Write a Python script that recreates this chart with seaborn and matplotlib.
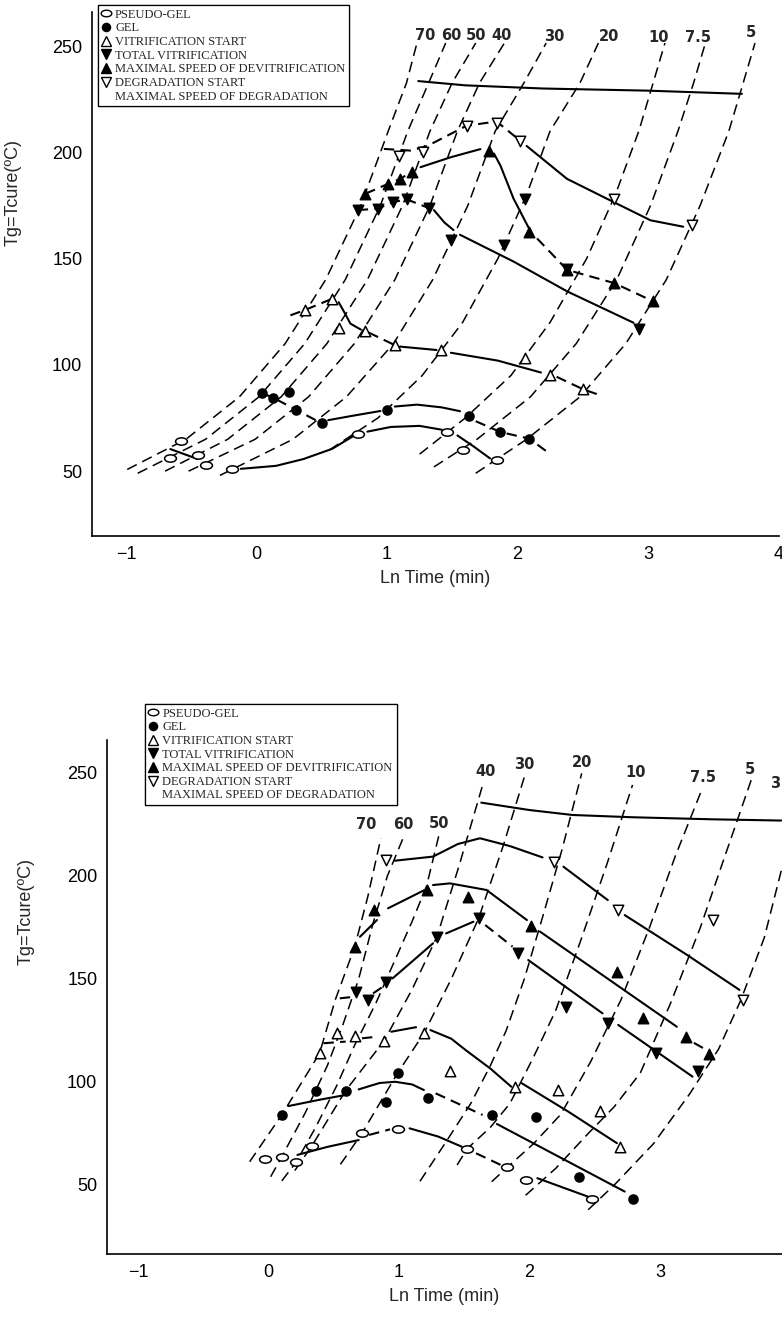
import matplotlib
matplotlib.use("Agg")
import matplotlib.pyplot as plt
import seaborn as sns
from matplotlib.path import Path
from matplotlib.lines import Line2D

sns.set_theme(style="white")
plt.rcParams["font.family"] = ["Liberation Sans Narrow", "Liberation Sans", "DejaVu Sans"]

# ======================= TOP PANEL DATA =======================
top_rate_labels = ["70", "60", "50", "40", "30", "20", "10", "7.5", "5"]
top_label_x = [1.29, 1.49, 1.68, 1.88, 2.28, 2.70, 3.08, 3.38, 3.79]
top_label_y = [255, 255, 255, 255, 254.7, 254.7, 254, 254, 256.5]

top_c70 = [(-0.99, 50.8), (-0.54, 65), (-0.13, 85), (0.22, 110), (0.53, 140), (0.80, 175), (1.01, 210), (1.15, 232.7), (1.23, 251.4)]
top_c60 = [(-0.91, 49), (-0.39, 65), (0.02, 85), (0.37, 110), (0.68, 140), (0.95, 175), (1.16, 210), (1.32, 232.7), (1.45, 251.4)]
top_c50 = [(-0.70, 50), (-0.22, 65), (0.19, 85), (0.54, 110), (0.85, 140), (1.12, 175), (1.33, 210), (1.50, 232.7), (1.68, 251.4)]
top_c40 = [(-0.52, 50), (-0.01, 65), (0.40, 85), (0.75, 110), (1.06, 140), (1.33, 175), (1.54, 210), (1.71, 232.7), (1.90, 251.4)]
top_c30 = [(-0.28, 48), (0.28, 65), (0.69, 85), (1.05, 110), (1.35, 140), (1.62, 175), (1.83, 210), (2.05, 232.7), (2.22, 251.4)]
top_c20 = [(0.56, 60), (0.93, 75), (1.27, 95), (1.58, 120), (1.85, 150), (2.07, 180), (2.25, 210), (2.48, 232.7), (2.62, 251.4)]
top_c10 = [(1.25, 58), (1.60, 75), (1.95, 95), (2.25, 120), (2.53, 150), (2.75, 180), (2.93, 210), (3.04, 232.7), (3.13, 251.4)]
top_c7p5 = [(1.36, 52), (1.69, 65), (2.10, 85), (2.45, 110), (2.76, 140), (3.02, 175), (3.23, 210), (3.35, 232.7), (3.44, 251.4)]
top_c5 = [(1.68, 49), (2.07, 65), (2.48, 85), (2.83, 110), (3.14, 140), (3.40, 175), (3.62, 210), (3.73, 232.7), (3.82, 251.4)]
top_curves = [top_c70, top_c60, top_c50, top_c40, top_c30, top_c20, top_c10, top_c7p5, top_c5]

top_pseudo_gel = [(-0.58, 64.3), (-0.66, 56.0), (-0.45, 57.8), (-0.39, 53.1), (-0.19, 50.8), (0.78, 67.5), (1.46, 68.4), (1.58, 59.8), (1.84, 55.4)]
top_gel = [(0.04, 86.8), (0.13, 84.5), (0.25, 87.3), (0.30, 79.0), (0.50, 72.5), (1.00, 78.7), (1.63, 75.8), (1.87, 68.4), (2.09, 65.3)]
top_vit_start = [(0.375, 125.9), (0.58, 131.1), (0.635, 117.4), (0.835, 116.0), (1.06, 109.3), (1.415, 106.9), (2.06, 103.4), (2.25, 95.3), (2.50, 88.6)]
top_total_vit = [(0.776, 172.8), (0.93, 173.5), (1.05, 176.6), (1.15, 177.9), (1.32, 173.8), (1.49, 158.7), (1.90, 156.4), (2.06, 178.2), (2.38, 145.0), (2.93, 116.7)]
top_max_devit = [(0.835, 180.5), (1.01, 185.2), (1.10, 187.5), (1.19, 190.7), (1.78, 200.8), (2.09, 162.6), (2.38, 144.7), (2.74, 138.5), (3.04, 129.9)]
top_degr_start = [(1.09, 198.1), (1.28, 200.0), (1.61, 212.5), (1.84, 213.7), (2.02, 205.5), (2.74, 178.2), (3.34, 165.7)]

# connecting lines: (style, points)
top_links = [
    ("-", [(-0.66, 60.4), (-0.45, 55.7)]),
    ("-", [(-0.12, 51.1), (0.15, 52.5), (0.36, 55.7), (0.58, 60.5), (0.745, 66.6)]),
    ("-", [(0.85, 68.6), (1.03, 70.8), (1.25, 71.3), (1.42, 69.5)]),
    ("-", [(1.54, 66.8), (1.66, 61.8), (1.79, 56.0)]),
    ("--", [(0.04, 86.8), (0.13, 84.5), (0.30, 79.0), (0.50, 72.5)]),
    ("-", [(0.55, 74.0), (0.75, 76.2), (0.95, 78.3)]),
    ("-", [(1.06, 80.4), (1.23, 81.3), (1.42, 80.0), (1.56, 78.2)]),
    ("--", [(1.68, 73.5), (1.87, 68.4), (2.09, 65.3), (2.23, 59.0)]),
    ("--", [(0.26, 123.3), (0.375, 125.9), (0.58, 131.1)]),
    ("-", [(0.63, 129.5), (0.68, 124.0), (0.72, 119.4), (0.80, 116.6)]),
    ("--", [(0.86, 115.2), (1.06, 109.3)]),
    ("-", [(1.10, 108.6), (1.38, 107.0)]),
    ("-", [(1.49, 105.7), (1.85, 102.0), (2.18, 96.4)]),
    ("--", [(2.30, 94.4), (2.50, 88.6), (2.62, 86.0)]),
    ("--", [(0.776, 172.8), (0.93, 173.5), (1.05, 176.6), (1.15, 177.9), (1.32, 173.8)]),
    ("-", [(1.36, 172.8), (1.44, 167.0), (1.51, 163.4)]),
    ("-", [(1.56, 161.2), (1.97, 148.6), (2.38, 134.6), (2.89, 119.8)]),
    ("--", [(0.835, 180.5), (1.01, 185.2), (1.10, 187.5), (1.19, 190.7)]),
    ("-", [(1.257, 193.0), (1.49, 197.7), (1.716, 201.5)]),
    ("-", [(1.82, 199.4), (1.87, 193.7), (1.97, 178.2), (2.09, 164.0)]),
    ("--", [(2.15, 159.5), (2.38, 144.7), (2.74, 138.5), (3.04, 129.9)]),
    ("--", [(0.976, 201.6), (1.18, 200.8), (1.31, 203.0), (1.61, 212.5), (1.84, 214.5), (2.02, 205.5)]),
    ("-", [(2.07, 203.0), (2.38, 187.5), (2.74, 176.5), (3.02, 168.0), (3.27, 165.0)]),
    ("-", [(1.24, 233.5), (1.60, 231.5), (2.20, 230.0), (3.00, 229.0), (3.72, 227.5)]),
]

# ======================= BOTTOM PANEL DATA =======================
bot_rate_labels = ["70", "60", "50", "40", "30", "20", "10", "7.5", "5", "3"]
bot_label_x = [0.75, 1.03, 1.31, 1.66, 1.96, 2.40, 2.81, 3.33, 3.69, 3.88]
bot_label_y = [224.8, 224.8, 225.7, 250.5, 253.9, 254.9, 250.2, 247.6, 251.5, 245]

bot_c70 = [(-0.146, 61.3), (0.10, 84), (0.39, 113.9), (0.51, 139.8), (0.66, 165.7), (0.76, 190), (0.86, 218.4)]
bot_c60 = [(0.015, 54), (0.10, 63.7), (0.28, 85), (0.45, 108), (0.57, 128), (0.69, 150), (0.80, 177), (0.91, 200), (1.03, 218.3)]
bot_c50 = [(0.10, 52), (0.21, 61), (0.36, 78), (0.52, 98), (0.66, 118), (0.82, 138), (0.96, 158), (1.10, 178), (1.21, 195), (1.31, 221)]
bot_c40 = [(0.20, 57), (0.33, 68.9), (0.59, 95.8), (0.885, 120), (1.10, 145), (1.29, 170.5), (1.46, 205), (1.64, 244)]
bot_c30 = [(0.55, 60), (0.715, 75.1), (0.99, 104.5), (1.19, 123.6), (1.40, 150), (1.61, 179.5), (1.80, 215), (1.96, 248)]
bot_c20 = [(1.16, 51.8), (1.35, 70), (1.55, 89.6), (1.70, 108), (1.82, 124.8), (1.96, 150), (2.10, 180), (2.25, 213), (2.40, 249.8)]
bot_c10 = [(1.445, 59.7), (1.52, 67.5), (1.70, 78), (1.85, 89.6), (2.03, 112), (2.20, 134.6), (2.40, 170), (2.60, 207), (2.79, 244.2)]
bot_c7p5 = [(1.71, 51.6), (1.83, 58.6), (2.03, 70), (2.24, 84.3), (2.47, 110), (2.70, 139.7), (2.92, 175), (3.12, 210), (3.32, 241.7)]
bot_c5 = [(1.97, 45), (2.20, 58), (2.45, 75), (2.65, 88), (2.85, 104.4), (3.08, 138), (3.31, 175), (3.50, 210), (3.70, 246.6)]
bot_c3 = [(2.45, 38), (2.65, 50), (2.95, 70), (3.23, 94.4), (3.45, 116), (3.62, 139.7), (3.80, 170), (3.94, 205), (4.02, 232)]
bot_curves = [bot_c70, bot_c60, bot_c50, bot_c40, bot_c30, bot_c20, bot_c10, bot_c7p5, bot_c5, bot_c3]

bot_pseudo_gel = [(-0.03, 62.6), (0.10, 63.7), (0.21, 61.0), (0.33, 68.9), (0.715, 75.1), (0.99, 77.3), (1.52, 67.5), (1.83, 58.6), (1.97, 52.4), (2.48, 43.1)]
bot_gel = [(0.10, 84.0), (0.36, 95.8), (0.59, 95.8), (0.90, 90.4), (0.99, 104.5), (1.22, 92.1), (1.71, 84.0), (2.05, 82.9), (2.38, 53.8), (2.79, 43.2)]
bot_vit_start = [(0.39, 113.9), (0.52, 123.6), (0.66, 122.3), (0.885, 120.0), (1.19, 123.6), (1.39, 105.5), (1.89, 97.4), (2.22, 96.1), (2.54, 86.0), (2.69, 68.6)]
bot_total_vit = [(0.67, 143.8), (0.76, 139.8), (0.90, 148.7), (1.29, 170.5), (1.61, 179.5), (1.91, 162.4), (2.28, 136.6), (2.60, 128.4), (2.97, 113.9), (3.29, 105.4)]
bot_max_devit = [(0.66, 165.7), (0.81, 183.5), (1.21, 193.2), (1.53, 189.6), (2.01, 175.7), (2.67, 153.5), (2.87, 130.9), (3.20, 121.7), (3.38, 113.6)]
bot_degr_start = [(0.90, 207.8), (2.19, 206.9), (2.68, 183.5), (3.41, 178.6), (3.64, 139.8)]

bot_links = [
    ("-", [(0.22, 64.6), (0.45, 68.5), (0.69, 71.8)]),
    ("--", [(0.77, 74.3), (0.93, 77.0)]),
    ("-", [(1.08, 77.5), (1.30, 73.5), (1.48, 68.6)]),
    ("--", [(1.59, 65.4), (1.78, 59.7)]),
    ("-", [(2.06, 53.3), (2.45, 44.3)]),
    ("-", [(0.15, 88.3), (0.40, 91.5), (0.59, 93.7)]),
    ("-", [(0.69, 96.4), (0.85, 99.5), (0.97, 100.1), (1.10, 98.8), (1.19, 96.1)]),
    ("--", [(1.28, 94.5), (1.64, 84.0)]),
    ("-", [(1.75, 79.6), (2.73, 46.8)]),
    ("--", [(0.42, 118.8), (0.59, 119.6)]),
    ("--", [(0.715, 121.2), (0.835, 122.0)]),
    ("-", [(0.94, 124.4), (1.13, 126.6)]),
    ("-", [(1.24, 125.2), (1.40, 121.0), (1.51, 115.5), (1.70, 106.5), (1.86, 97.7)]),
    ("-", [(1.94, 99.4), (2.30, 85.5), (2.67, 70.3)]),
    ("--", [(0.545, 140.6), (0.66, 141.4)]),
    ("--", [(0.80, 143.0), (0.877, 146.3)]),
    ("-", [(0.95, 150.3), (1.10, 158.5), (1.26, 167.3)]),
    ("-", [(1.36, 172.1), (1.57, 177.8)]),
    ("--", [(1.66, 176.2), (1.87, 165.7)]),
    ("-", [(1.99, 159.2), (2.56, 133.3)]),
    ("-", [(2.68, 127.7), (3.25, 102.6)]),
    ("-", [(0.70, 170.5), (0.83, 178.6)]),
    ("-", [(0.915, 184.3), (1.196, 193.2)]),
    ("-", [(1.26, 195.6), (1.39, 196.4), (1.67, 193.2), (1.98, 178.6)]),
    ("-", [(2.08, 173.0), (3.13, 126.8)]),
    ("--", [(3.26, 119.0), (3.33, 116.5)]),
    ("-", [(0.966, 207.4), (1.26, 209.4), (1.45, 215.5), (1.62, 218.3), (1.85, 214.5), (2.10, 209.0)]),
    ("-", [(2.26, 204.5), (2.60, 188.3)]),
    ("-", [(2.73, 181.0), (3.20, 162.0), (3.61, 144.7)]),
    ("-", [(1.63, 235.6), (2.00, 232.0), (2.33, 229.6), (2.79, 228.5), (3.40, 227.5), (3.93, 226.9)]),
]

# ======================= DRAWING =======================
ellipse = Path(Path.unit_circle().vertices * [1.0, 0.62], Path.unit_circle().codes)

series_styles = [
    ("PSEUDO-GEL", ellipse, "white", 8.5),
    ("GEL", "o", "black", 6.5),
    ("VITRIFICATION START", "^", "white", 7.5),
    ("TOTAL VITRIFICATION", "v", "black", 7.5),
    ("MAXIMAL SPEED OF DEVITRIFICATION", "^", "black", 7.5),
    ("DEGRADATION START", "v", "white", 7.5),
]


def draw_line(ax, pts, style, lw=1.3):
    xs = [p[0] for p in pts]
    ys = [p[1] for p in pts]
    sns.lineplot(x=xs, y=ys, sort=False, estimator=None, color="black", lw=lw, ax=ax)
    ln = ax.lines[-1]
    if style == "--":
        ln.set_dashes([5, 3])
    return ln


def draw_panel(ax, curves, labels, lab_x, lab_y, links, series, xlim, ylim, xticks, legend_anchor):
    for c in curves:
        ln = draw_line(ax, c, "--", lw=1.1)
        ln.set_dashes([7, 4])
    for style, pts in links:
        draw_line(ax, pts, style, lw=1.5)
    for (name, mk, fc, ms), pts in zip(series_styles, series):
        xs = [p[0] for p in pts]
        ys = [p[1] for p in pts]
        sns.scatterplot(x=xs, y=ys, marker=mk, s=ms ** 2, color=fc, edgecolor="black",
                        linewidth=1.1, zorder=5, ax=ax)
    for t, x, y in zip(labels, lab_x, lab_y):
        ax.text(x, y, t, ha="center", va="center", fontsize=10.5, fontweight="bold",
                family=["DejaVu Sans"], clip_on=False)
    ax.set_xlim(*xlim)
    ax.set_ylim(*ylim)
    ax.set_xticks(xticks)
    ax.set_yticks([50, 100, 150, 200, 250])
    for s in ["top", "right"]:
        ax.spines[s].set_visible(False)
    for s in ["left", "bottom"]:
        ax.spines[s].set_color("black")
        ax.spines[s].set_linewidth(1.2)
    ax.tick_params(direction="in", length=7, width=1, colors="black", labelsize=13, pad=7)
    ax.set_xlabel("Ln Time (min)", fontsize=13, labelpad=5)
    ax.set_ylabel("Tg=Tcure(ºC)", fontsize=13)
    handles = []
    for name, mk, fc, ms in series_styles:
        handles.append(Line2D([], [], marker=mk, color="black", markerfacecolor=fc,
                              markeredgecolor="black", markersize=ms * 0.9, linestyle="none", label=name))
    handles.append(Line2D([], [], marker="", linestyle="none", label="MAXIMAL SPEED OF DEGRADATION"))
    leg = ax.legend(handles=handles, loc="upper left", bbox_to_anchor=legend_anchor,
                    bbox_transform=ax.figure.transFigure, frameon=True, fancybox=False,
                    edgecolor="black", framealpha=1, handlelength=0.7, handletextpad=0.4,
                    labelspacing=0.13, borderpad=0.3, borderaxespad=0,
                    prop={"family": ["Liberation Serif", "DejaVu Serif"], "size": 9})
    leg.get_frame().set_linewidth(0.9)
    ax.add_artist(leg)


fig = plt.figure(figsize=(7.82, 13.38), dpi=100)
ax1 = fig.add_axes([92 / 782, (1338 - 536) / 1338, 687 / 782, 524 / 1338])
ax2 = fig.add_axes([107 / 782, (1338 - 1254) / 1338, 675 / 782, 514 / 1338])

draw_panel(ax1, top_curves, top_rate_labels, top_label_x, top_label_y, top_links,
           [top_pseudo_gel, top_gel, top_vit_start, top_total_vit, top_max_devit, top_degr_start],
           (-1.26, 4.004), (19.5, 266), [-1, 0, 1, 2, 3, 4], (97.5 / 782, 1 - 5 / 1338))
draw_panel(ax2, bot_curves, bot_rate_labels, bot_label_x, bot_label_y, bot_links,
           [bot_pseudo_gel, bot_gel, bot_vit_start, bot_total_vit, bot_max_devit, bot_degr_start],
           (-1.24, 3.936), (16.5, 266), [-1, 0, 1, 2, 3], (145 / 782, 1 - 704 / 1338))

ax1.yaxis.set_label_coords(-0.102, 0.655)
ax2.yaxis.set_label_coords(-0.107, 0.667)

fig.savefig("out.png", dpi=100)
